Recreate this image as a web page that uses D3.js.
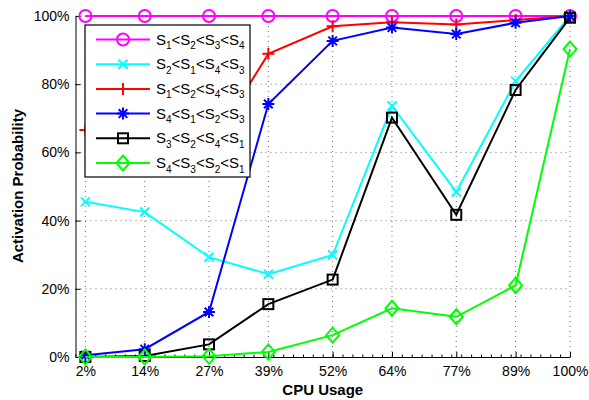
<!DOCTYPE html>
<html><head><meta charset="utf-8">
<script src="https://cdn.jsdelivr.net/npm/d3@7"></script>
<style>body{margin:0;background:#fff}svg{display:block;font-family:"Liberation Sans",Arial,sans-serif}</style>
</head><body><svg id="c" width="589" height="400"></svg>
<script>
const cpu = [2, 14, 27, 39, 52, 64, 77, 89, 100];
const xTickLabels = ["2%","14%","27%","39%","52%","64%","77%","89%","100%"];
const yTicks = [0, 20, 40, 60, 80, 100];
const s1 = [100, 100, 100, 100, 100, 100, 100, 100, 100];
const s2 = [45.5, 42.5, 29.3, 24.3, 29.9, 73.6, 48.4, 80.9, 100];
const s3 = [66.6, 64, 61, 88.9, 97, 98.2, 97.5, 98.8, 100];
const s4 = [0.5, 2.3, 13.2, 74.2, 92.7, 96.6, 94.7, 98, 100];
const s5 = [0, 0.3, 3.7, 15.5, 22.7, 70.2, 41.7, 78.3, 99.5];
const s6 = [0, 0, 0.2, 1.5, 6.4, 14.3, 11.8, 21, 90.3];
const seriesNames = [
  ["1","2","3","4"],
  ["2","1","4","3"],
  ["1","2","4","3"],
  ["4","1","2","3"],
  ["3","2","4","1"],
  ["4","3","2","1"]
];
const colors = ["#ff00ff", "#00ffff", "#ff0000", "#0000ff", "#000000", "#00ff00"];
const markers = ["circle", "x", "plus", "star", "square", "diamond"];
const allSeries = [s1, s2, s3, s4, s5, s6];

const svg = d3.select("#c");
const L = 75.5, R = 570, T = 16, B = 357;
const x = d3.scaleLinear().domain([0, 100]).range([L, R]);
const y = d3.scaleLinear().domain([0, 100]).range([B, T]);

// grid
const grid = svg.append("g");
grid.selectAll(".vg").data(cpu).join("line")
  .attr("x1", d => x(d)).attr("x2", d => x(d)).attr("y1", B).attr("y2", T)
  .attr("stroke", "#333").attr("stroke-width", 0.7).attr("stroke-dasharray", "1,4");
grid.selectAll(".hg").data(yTicks.filter(d => d > 0)).join("line")
  .attr("x1", L).attr("x2", R).attr("y1", d => y(d)).attr("y2", d => y(d))
  .attr("stroke", "#333").attr("stroke-width", 0.7).attr("stroke-dasharray", "1,4");

// axes
const xAxis = d3.axisBottom(x).tickValues(cpu).tickFormat((d, i) => xTickLabels[i]).tickSizeInner(-5).tickSizeOuter(0).tickPadding(9);
const gx = svg.append("g").attr("transform", `translate(0,${B})`).call(xAxis);
const minor = d3.range(0, 101, 2);
const xMinor = d3.axisBottom(x).tickValues(minor).tickFormat("").tickSizeInner(-2.5).tickSizeOuter(0);
svg.append("g").attr("transform", `translate(0,${B})`).call(xMinor).select(".domain").remove();
const yAxis = d3.axisLeft(y).tickValues(yTicks).tickFormat(d => d + "%").tickSizeInner(-5).tickSizeOuter(0).tickPadding(6);
const gy = svg.append("g").attr("transform", `translate(${L},0)`).call(yAxis);
[gx, gy].forEach(g => {
  g.selectAll("text").attr("font-size", 14).attr("fill", "#000").attr("font-family", "Liberation Sans, Arial, sans-serif");
  g.select(".domain").attr("stroke", "#000").attr("stroke-width", 1);
});
gx.selectAll("text").attr("dy", "0.71em");
svg.selectAll("g .tick line").attr("stroke", "#000");

svg.append("text").attr("x", (L + R) / 2).attr("y", 395).attr("text-anchor", "middle")
  .attr("font-size", 15).attr("font-weight", "bold").text("CPU Usage");
svg.append("text").attr("transform", "translate(23,186) rotate(-90)").attr("text-anchor", "middle")
  .attr("font-size", 15).attr("font-weight", "bold").text("Activation Probability");

function drawMarker(g, type, cx, cy, color) {
  const sw = 2;
  if (type === "circle") {
    g.append("circle").attr("cx", cx).attr("cy", cy).attr("r", 6).attr("fill", "none").attr("stroke", color).attr("stroke-width", sw);
  } else if (type === "x") {
    const s = 4.5;
    g.append("path").attr("d", `M${cx-s},${cy-s}L${cx+s},${cy+s}M${cx-s},${cy+s}L${cx+s},${cy-s}`).attr("stroke", color).attr("stroke-width", sw);
  } else if (type === "plus") {
    const s = 6;
    g.append("path").attr("d", `M${cx-s},${cy}L${cx+s},${cy}M${cx},${cy-s}L${cx},${cy+s}`).attr("stroke", color).attr("stroke-width", sw);
  } else if (type === "star") {
    const s = 6, d = 4.3;
    g.append("path").attr("d", `M${cx-s},${cy}L${cx+s},${cy}M${cx},${cy-s}L${cx},${cy+s}M${cx-d},${cy-d}L${cx+d},${cy+d}M${cx-d},${cy+d}L${cx+d},${cy-d}`).attr("stroke", color).attr("stroke-width", sw);
  } else if (type === "square") {
    const s = 5;
    g.append("rect").attr("x", cx - s).attr("y", cy - s).attr("width", 2 * s).attr("height", 2 * s).attr("fill", "none").attr("stroke", color).attr("stroke-width", sw);
  } else if (type === "diamond") {
    const w = 6.5, h = 7.5;
    g.append("path").attr("d", `M${cx},${cy-h}L${cx+w},${cy}L${cx},${cy+h}L${cx-w},${cy}Z`).attr("fill", "none").attr("stroke", color).attr("stroke-width", sw);
  }
}

const line = d3.line().x((d, i) => x(cpu[i])).y(d => y(d));
allSeries.forEach((s, k) => {
  const g = svg.append("g");
  g.append("path").datum(s).attr("d", line).attr("fill", "none").attr("stroke", colors[k]).attr("stroke-width", 2);
  s.forEach((v, i) => drawMarker(g, markers[k], x(cpu[i]), y(v), colors[k]));
});

// legend
const lg = svg.append("g");
lg.append("rect").attr("x", 85).attr("y", 25).attr("width", 165).attr("height", 152)
  .attr("fill", "#fff").attr("stroke", "#000").attr("stroke-width", 1.2);
seriesNames.forEach((nm, k) => {
  const ly = 39.5 + k * 24.7;
  lg.append("line").attr("x1", 96).attr("x2", 150).attr("y1", ly).attr("y2", ly).attr("stroke", colors[k]).attr("stroke-width", 2);
  drawMarker(lg, markers[k], 123, ly, colors[k]);
  const t = lg.append("text").attr("x", 156).attr("y", ly + 5).attr("font-size", 15).attr("fill", "#000");
  nm.forEach((sub, j) => {
    if (j > 0) t.append("tspan").attr("dy", -4.5).text("<");
    t.append("tspan").text("S");
    t.append("tspan").attr("dy", 4.5).attr("font-size", 10).text(sub);
  });
});
</script></body></html>
